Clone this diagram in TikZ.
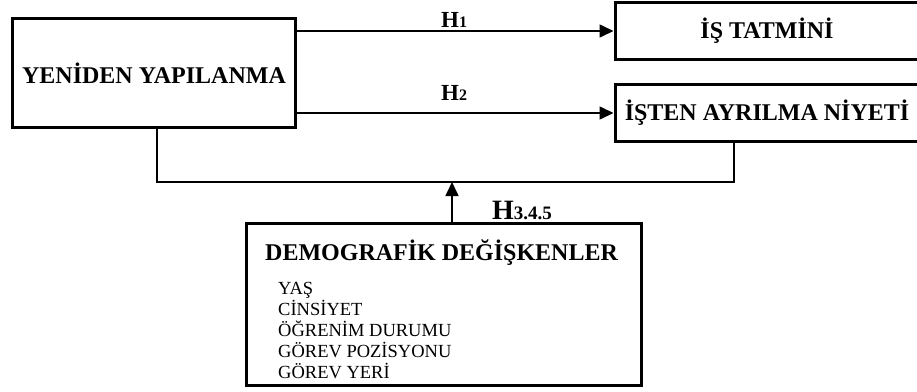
\documentclass[tikz,border=0pt]{standalone}
\usepackage{fontspec}
\setmainfont{Liberation Serif}
\usetikzlibrary{arrows.meta}

\tikzset{
  box/.style={draw,line width=3pt,inner sep=0pt,font=\fontsize{24}{26}\selectfont\bfseries},
  arr/.style={line width=1.6pt,-{Triangle[length=14pt,width=13pt]}},
  link/.style={line width=1.6pt},
  hyp/.style={anchor=base west,inner sep=0pt},
  item/.style={anchor=base west,inner sep=0pt,font=\fontsize{18.5}{20}\selectfont}
}
\newcommand{\hlabel}[1]{{\fontsize{23}{23}\selectfont\bfseries H}{\fontsize{16}{16}\selectfont\bfseries #1}}

\begin{document}
\begin{tikzpicture}[x=1pt,y=-1pt]
\useasboundingbox (0,0) rectangle (917,391);
\clip (0,0) rectangle (917,391);

% Boxes
\node[box,minimum width=283pt,minimum height=109pt] (yap) at (154,73) {YEN\.IDEN YAPILANMA};
\node[box,minimum width=304pt,minimum height=57pt] (is) at (767,31) {\.I\c{S} TATM\.IN\.I};
\node[box,minimum width=304pt,minimum height=57pt] (ayr) at (767,113) {\.I\c{S}TEN AYRILMA N\.IYET\.I};
\node[box,minimum width=395pt,minimum height=162pt] (dem) at (444,304.5) {};

% Demographic variables
\node[hyp,font=\fontsize{24}{26}\selectfont\bfseries] (demt) at (265,260) {DEMOGRAF\.IK DE\u{G}\.I\c{S}KENLER};
\foreach \t [count=\i] in {YA\c{S}, C\.INS\.IYET, \"O\u{G}REN\.IM DURUMU, G\"OREV POZ\.ISYONU, G\"OREV YER\.I}
  \node[item] (d\i) at (278,273+21*\i) {\t};

% Hypotheses H1, H2
\draw[arr] (yap.east |- is.west) -- (is.west);
\draw[arr] (yap.east |- ayr.west) -- (ayr.west);
\node[hyp] (h1) at (441,27) {\hlabel{1}};
\node[hyp] (h2) at (441,100) {\hlabel{2}};

% Moderating link
\coordinate (jl) at (157,182);
\coordinate (jr) at (734,182);
\coordinate (jm) at (452,182);
\draw[link] (yap.south -| jl) -- (jl) -- (jr) -- (ayr.south -| jr);
\draw[arr] (dem.north -| jm) -- (jm);
\node[hyp] (h3) at (492,219) {{\fontsize{28}{28}\selectfont\bfseries H}{\fontsize{19}{19}\selectfont\bfseries 3.4.5}};

\end{tikzpicture}
\end{document}
